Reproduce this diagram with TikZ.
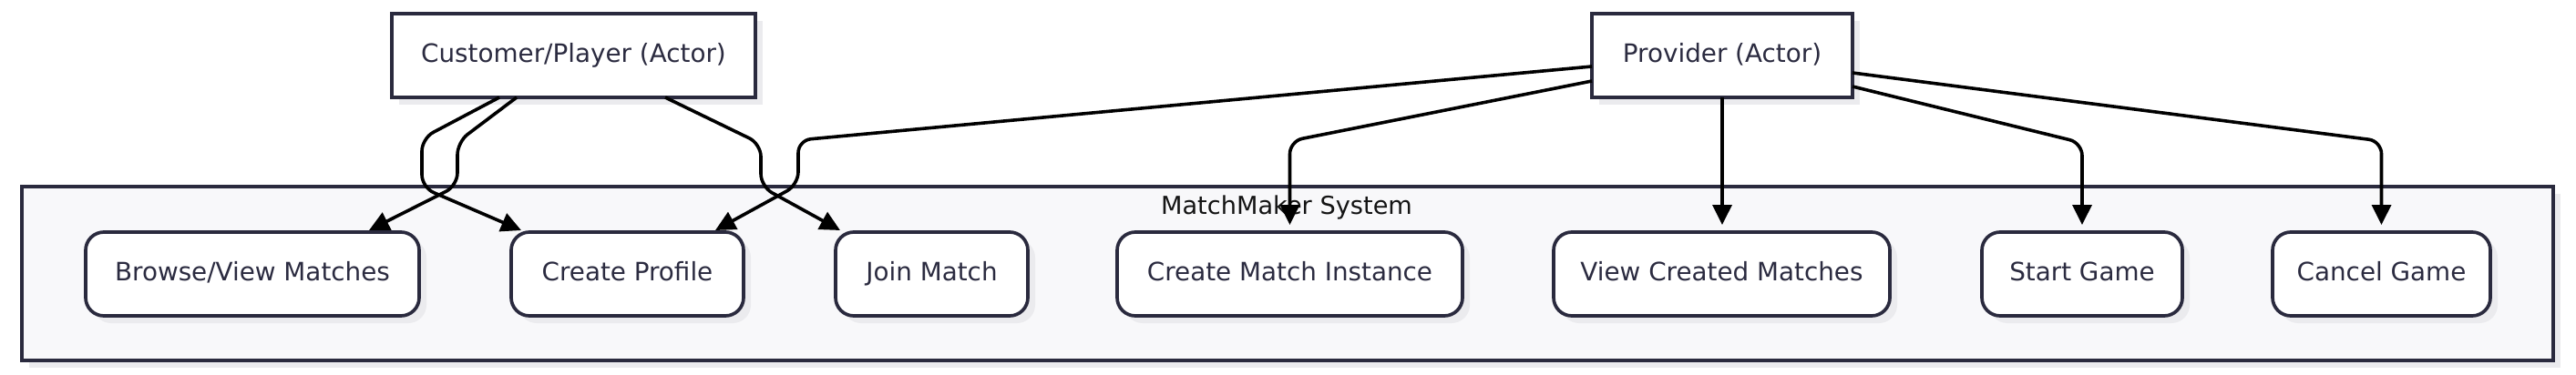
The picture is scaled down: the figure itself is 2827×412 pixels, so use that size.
\documentclass[tikz,border=0pt]{standalone}
\usepackage{fontspec}
\setmainfont{DejaVu Sans}
\usetikzlibrary{arrows.meta,shadows,calc}
\definecolor{bd}{HTML}{2A2A3E}
\definecolor{tx}{HTML}{2B2B40}
\definecolor{sysfill}{HTML}{F8F8FA}
\definecolor{shd}{HTML}{EBEBEE}
\begin{document}
\begin{tikzpicture}[x=0.5pt,y=-0.5pt,
  boxbase/.style={draw=bd, line width=1.85pt, rectangle, inner sep=0pt, outer sep=0pt,
    general shadow={fill=shd, shadow xshift=4pt, shadow yshift=-4pt}},
  actor/.style={boxbase, fill=white, minimum height=46pt, text=tx,
    font=\fontsize{13.9}{16}\selectfont, text height=0.73em, text depth=0pt},
  uc/.style={actor, rounded corners=10pt},
  conn/.style={draw=black, line width=1.8pt, -{Triangle[length=11pt,width=10.5pt]}, rounded corners=7pt},
]
\useasboundingbox (0,0) rectangle (2827,412);
\fill[white] (0,0) rectangle (2827,412);

\node[boxbase, fill=sysfill, minimum width=1389pt, minimum height=95.5pt] (sys) at (1413,300.5) {};
\node[font=\fontsize{13.6}{16}\selectfont, text=black!92, anchor=base, inner sep=0pt] (title) at (1412,235) {MatchMaker System};

\node[uc, minimum width=183pt]   (browse)  at (277,301)    {Browse/View Matches};
\node[uc, minimum width=127.5pt] (profile) at (688.5,301)  {Create Profile};
\node[uc, minimum width=105.5pt] (join)    at (1022.5,301) {Join Match};
\node[uc, minimum width=189.5pt] (cmi)     at (1415.5,301) {Create Match Instance};
\node[uc, minimum width=184.5pt] (vcm)     at (1889.5,301) {View Created Matches};
\node[uc, minimum width=110pt]   (start)   at (2285,301)   {Start Game};
\node[uc, minimum width=119.5pt] (cancel)  at (2613.5,301) {Cancel Game};

\node[actor, minimum width=199.5pt] (cust) at (629.5,61) {Customer/Player (Actor)};
\node[actor, minimum width=143pt]   (prov) at (1890,61)  {Provider (Actor)};

% Customer edges
\draw[conn] ($(cust.south west)+(137,0)$) -- (502,156) -- (502,204) -- ($(browse.north)+(128,-2)$);
\draw[conn] ($(cust.south west)+(118,0)$) -- (463,152) -- (463,206) -- ($(profile.north)+(-116.5,-2)$);
\draw[conn] ($(cust.south west)+(300,0)$) -- (835,158) -- (835,205) -- ($(join.north)+(-100.5,-2)$);

% Provider edges
\draw[conn] ($(prov.west)+(0,12)$) -- (876,154) -- (876,203) -- ($(profile.north)+(96.5,-2)$);
\draw[conn, shorten >=4pt] ($(prov.west)+(0,28)$) -- (cmi.north |- 0,155) -- (cmi.north);
\draw[conn, shorten >=4pt] (prov.south) -- (prov.south |- vcm.north);
\draw[conn, shorten >=4pt] ($(prov.east)+(0,34)$) -- (start.north |- 0,157) -- (start.north);
\draw[conn, shorten >=4pt] ($(prov.east)+(0,19)$) -- (cancel.north |- 0,155) -- (cancel.north);
\end{tikzpicture}
\end{document}
